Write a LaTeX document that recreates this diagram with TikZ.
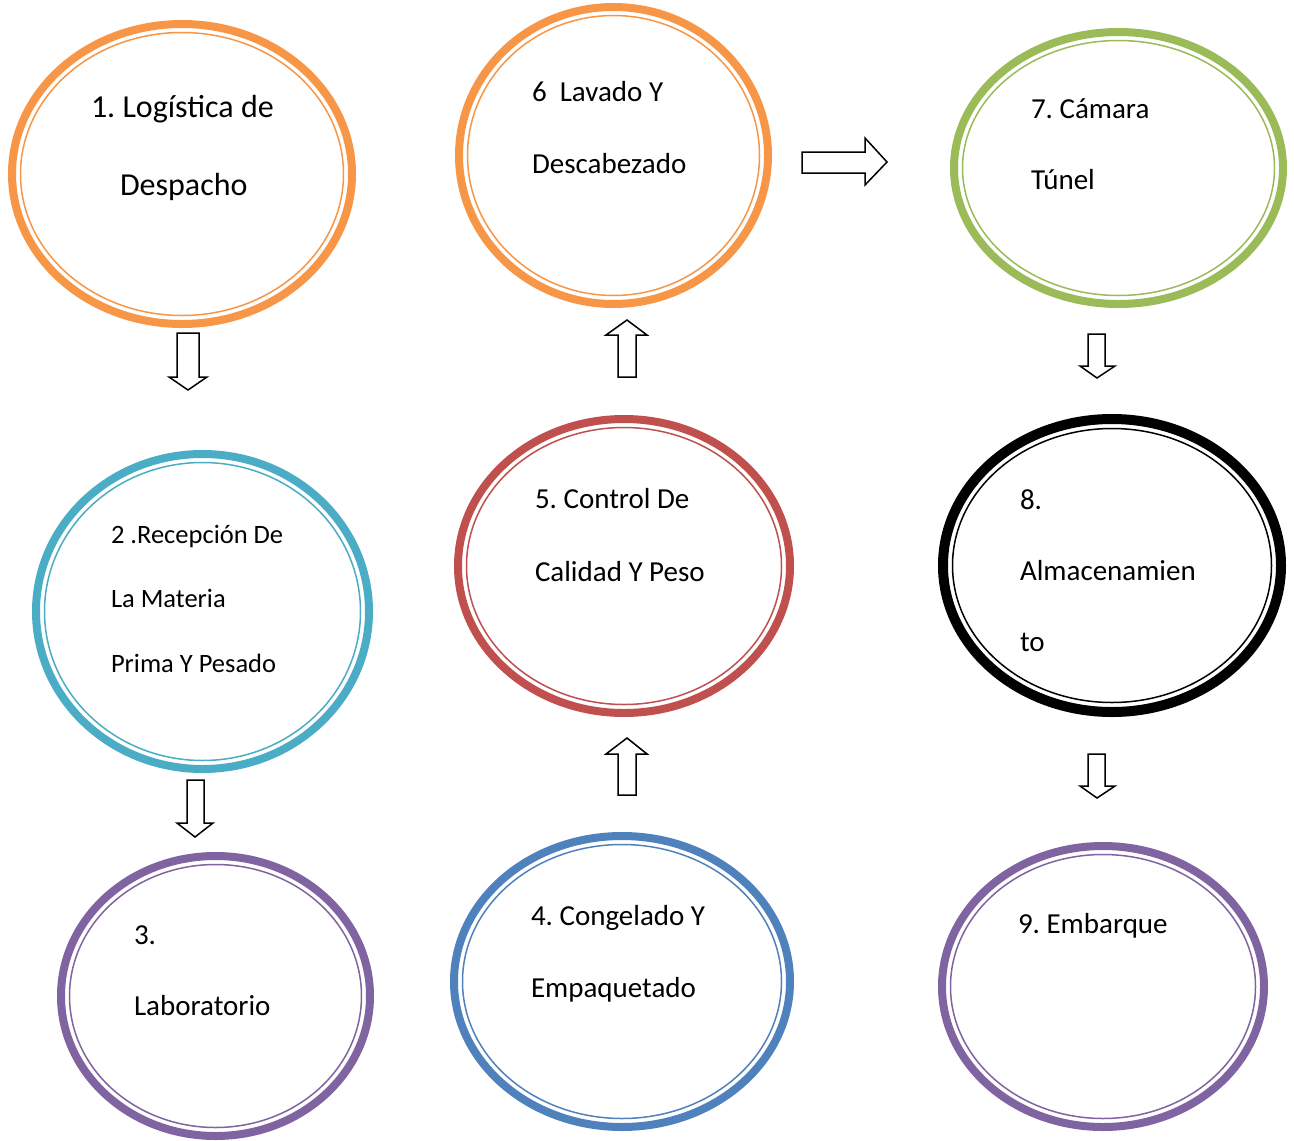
\documentclass[tikz,border=0pt]{standalone}
\usepackage{fontspec}
\setmainfont{Carlito}
\usetikzlibrary{shapes.geometric}
\frenchspacing

\definecolor{ringorange}{HTML}{F79646}
\definecolor{ringcyan}{HTML}{4BACC6}
\definecolor{ringred}{HTML}{C0504D}
\definecolor{ringpurple}{HTML}{8064A2}
\definecolor{ringblue}{HTML}{4F81BD}
\definecolor{ringgreen}{HTML}{9BBB59}

% \stage{name}{colour}{cx}{cy}{rx}{ry}{outer width}{inner inset}
% rx, ry are the radii of the outer edge of the thick ring
\newcommand\stage[8]{%
  \node[ellipse, draw=#2, line width=#7pt, inner sep=0pt, outer sep=0pt,
        minimum width={2*(#5-#7/2)}, minimum height={2*(#6-#7/2)}] (#1) at (#3,#4) {};
  \draw[draw=#2, line width=1.5pt] (#1.center) ellipse [x radius={#5-#8}, y radius={#6-#8}];
}

\tikzset{
  lbl/.style={anchor=base west, inner sep=0pt, outer sep=0pt,
              font=\fontsize{29}{34}\selectfont},
  blockarrow/.style={draw=black, fill=white, line width=1.5pt, line join=miter}
}

\begin{document}
\begin{tikzpicture}[x=1pt, y=-1pt]
\useasboundingbox (0,0) rectangle (1294,1141);

% stages
\stage{s1}{ringorange}{182}{174}{174}{154}{8}{12.5}
\stage{s6}{ringorange}{613.5}{155.5}{158.5}{152.5}{8}{12.5}
\stage{s7}{ringgreen}{1118.5}{168}{168.5}{140}{8}{12.5}
\stage{s2}{ringcyan}{202.5}{611.5}{170.5}{161.5}{8}{12.5}
\stage{s5}{ringred}{624}{566}{170}{151}{8}{12.5}
\stage{s8}{black}{1112}{565.5}{174}{151.5}{10}{14.5}
\stage{s3}{ringpurple}{215.5}{996}{158.5}{144}{8}{12.5}
\stage{s4}{ringblue}{622}{981.5}{172}{149.5}{8}{12.5}
\stage{s9}{ringpurple}{1103}{986.5}{165}{144.5}{8}{12.5}

% labels
\node[lbl, font=\fontsize{32}{38}\selectfont] (t1a) at (91,117) {1. Logística de};
\node[lbl, font=\fontsize{32}{38}\selectfont] (t1b) at (120,195) {Despacho};

\node[lbl] (t6a) at (532,101) {6\ \ Lavado Y};
\node[lbl] (t6b) at (532,173) {Descabezado};

\node[lbl] (t7a) at (1031,118) {7. Cámara};
\node[lbl] (t7b) at (1031,189) {Túnel};

\node[lbl, font=\fontsize{26.5}{32}\selectfont] (t2a) at (111,543) {2 .Recepción De};
\node[lbl, font=\fontsize{26.5}{32}\selectfont] (t2b) at (111,607) {La Materia};
\node[lbl, font=\fontsize{26.5}{32}\selectfont] (t2c) at (111,672) {Prima Y Pesado};

\node[lbl] (t5a) at (535,508) {5. Control De};
\node[lbl] (t5b) at (535,581) {Calidad Y Peso};

\node[lbl] (t8a) at (1020,509) {8.};
\node[lbl] (t8b) at (1020,580) {Almacenamien};
\node[lbl] (t8c) at (1020,651) {to};

\node[lbl] (t3a) at (134,944) {3.};
\node[lbl] (t3b) at (134,1015) {Laboratorio};

\node[lbl] (t4a) at (531,925) {4. Congelado Y};
\node[lbl] (t4b) at (531,997) {Empaquetado};

\node[lbl] (t9a) at (1018,933) {9. Embarque};

% block arrows between stages
% 1 -> 2
\draw[blockarrow] (177,333) -- (199,333) -- (199,377) -- (207,377) -- (188,390)
  -- (169,377) -- (177,377) -- cycle;
% 2 -> 3
\draw[blockarrow] (187,780) -- (204,780) -- (204,823) -- (213,823) -- (195,837)
  -- (177,823) -- (187,823) -- cycle;
% 4 -> 5
\draw[blockarrow] (618,795) -- (636,795) -- (636,754) -- (647,754) -- (627,738)
  -- (606,754) -- (618,754) -- cycle;
% 5 -> 6
\draw[blockarrow] (618,377) -- (636,377) -- (636,335) -- (647,335) -- (627,320)
  -- (606,335) -- (618,335) -- cycle;
% 6 -> 7
\draw[blockarrow] (802,152) -- (865,152) -- (865,138) -- (887,162) -- (865,185)
  -- (865,173) -- (802,173) -- cycle;
% 7 -> 8
\draw[blockarrow] (1088,334) -- (1105,334) -- (1105,366) -- (1115,366) -- (1097,378)
  -- (1080,366) -- (1088,366) -- cycle;
% 8 -> 9
\draw[blockarrow] (1088,754) -- (1105,754) -- (1105,786) -- (1115,786) -- (1097,798)
  -- (1080,786) -- (1088,786) -- cycle;
\end{tikzpicture}
\end{document}
